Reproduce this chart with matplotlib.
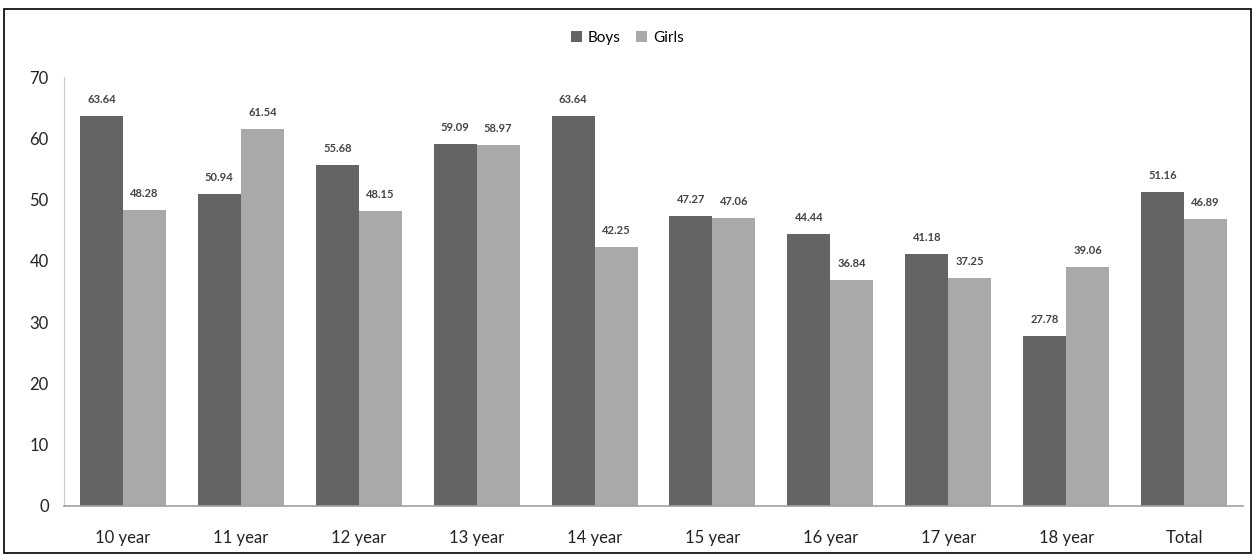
import numpy as np
import matplotlib.pyplot as plt
from matplotlib.patches import Rectangle

plt.rcParams.update({"font.family": ["Lato", "DejaVu Sans"]})

# --- Data ---
categories = ["10 year", "11 year", "12 year", "13 year", "14 year",
              "15 year", "16 year", "17 year", "18 year", "Total"]
boys = [63.64, 50.94, 55.68, 59.09, 63.64, 47.27, 44.44, 41.18, 27.78, 51.16]
girls = [48.28, 61.54, 48.15, 58.97, 42.25, 47.06, 36.84, 37.25, 39.06, 46.89]

dark = "#646467"
light = "#a9a9ac"

fig = plt.figure(figsize=(12.55, 5.56), dpi=100)
ax = fig.add_axes([64 / 1255, 1 - 506 / 556, (1243 - 64) / 1255, (506 - 77) / 556])

x = np.arange(len(categories))
w = 0.365
b1 = ax.bar(x - w / 2, boys, w, color=dark, label="Boys")
b2 = ax.bar(x + w / 2, girls, w, color=light, label="Girls")

for bars in (b1, b2):
    for r in bars:
        ax.text(r.get_x() + r.get_width() / 2, r.get_height() + 1.8,
                f"{r.get_height():.2f}", ha="center", va="bottom",
                fontsize=8, fontweight="bold", color="#444444")

ax.set_xlim(-0.5, len(categories) - 0.5)
ax.set_ylim(0, 70)
ax.set_yticks(range(0, 71, 10))
ax.set_xticks(x)
ax.set_xticklabels(categories)
ax.tick_params(axis="both", length=0, labelsize=12, colors="#222222")
ax.tick_params(axis="x", pad=17)
ax.tick_params(axis="y", pad=11)

for s in ("top", "right"):
    ax.spines[s].set_visible(False)
ax.spines["left"].set_color("#c8c8c8")
ax.spines["bottom"].set_color("#a0a0a0")
ax.spines["bottom"].set_linewidth(1.2)

fig.legend(loc="center", bbox_to_anchor=(0.5, 1 - 38 / 556), ncol=2,
           frameon=False, fontsize=11, handlelength=0.7, handleheight=0.7,
           columnspacing=1.0, handletextpad=0.4)

fig.patches.append(Rectangle((4 / 1255, 3 / 556), 1247 / 1255, 544 / 556,
                             transform=fig.transFigure, fill=False,
                             edgecolor="black", linewidth=1.2))

plt.savefig("out.png", dpi=100)
